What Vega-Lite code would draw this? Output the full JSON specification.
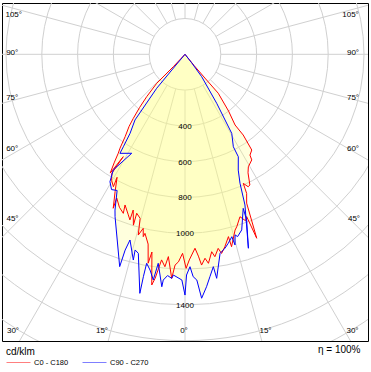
{
  "$schema": "https://vega.github.io/schema/vega-lite/v6.json",
  "width": 366,
  "height": 338,
  "autosize": {"type": "none"},
  "padding": {"left": 2, "top": 3, "right": 3, "bottom": 31},
  "config": {"view": {"stroke": "#000000", "strokeWidth": 1}, "font": "Liberation Sans"},
  "datasets": {
    "curves": [
      {"s": "C0 - C180", "i": 1, "a": -60, "v": 0},
      {"s": "C0 - C180", "i": 2, "a": -43.3, "v": 95},
      {"s": "C0 - C180", "i": 3, "a": -44.3, "v": 226},
      {"s": "C0 - C180", "i": 4, "a": -42.1, "v": 319},
      {"s": "C0 - C180", "i": 5, "a": -40.5, "v": 390},
      {"s": "C0 - C180", "i": 6, "a": -38.9, "v": 460},
      {"s": "C0 - C180", "i": 7, "a": -37.8, "v": 510},
      {"s": "C0 - C180", "i": 8, "a": -36, "v": 569},
      {"s": "C0 - C180", "i": 9, "a": -34.7, "v": 638},
      {"s": "C0 - C180", "i": 10, "a": -34, "v": 667},
      {"s": "C0 - C180", "i": 11, "a": -33.2, "v": 720},
      {"s": "C0 - C180", "i": 12, "a": -32.2, "v": 784},
      {"s": "C0 - C180", "i": 13, "a": -31.1, "v": 668},
      {"s": "C0 - C180", "i": 14, "a": -31.6, "v": 781},
      {"s": "C0 - C180", "i": 15, "a": -30.2, "v": 815},
      {"s": "C0 - C180", "i": 16, "a": -28.4, "v": 841},
      {"s": "C0 - C180", "i": 17, "a": -28.9, "v": 785},
      {"s": "C0 - C180", "i": 18, "a": -27, "v": 860},
      {"s": "C0 - C180", "i": 19, "a": -25, "v": 949},
      {"s": "C0 - C180", "i": 20, "a": -25.4, "v": 889},
      {"s": "C0 - C180", "i": 21, "a": -23.2, "v": 930},
      {"s": "C0 - C180", "i": 22, "a": -21.2, "v": 953},
      {"s": "C0 - C180", "i": 23, "a": -21.7, "v": 906},
      {"s": "C0 - C180", "i": 24, "a": -19.6, "v": 948},
      {"s": "C0 - C180", "i": 25, "a": -18.4, "v": 975},
      {"s": "C0 - C180", "i": 26, "a": -18.4, "v": 917},
      {"s": "C0 - C180", "i": 27, "a": -16.8, "v": 997},
      {"s": "C0 - C180", "i": 28, "a": -16.9, "v": 928},
      {"s": "C0 - C180", "i": 29, "a": -15.3, "v": 950},
      {"s": "C0 - C180", "i": 30, "a": -14.5, "v": 1043},
      {"s": "C0 - C180", "i": 31, "a": -13.5, "v": 1000},
      {"s": "C0 - C180", "i": 32, "a": -12.9, "v": 1045},
      {"s": "C0 - C180", "i": 33, "a": -12.6, "v": 1025},
      {"s": "C0 - C180", "i": 34, "a": -11, "v": 1080},
      {"s": "C0 - C180", "i": 35, "a": -10, "v": 1185},
      {"s": "C0 - C180", "i": 36, "a": -9.5, "v": 1120},
      {"s": "C0 - C180", "i": 37, "a": -8.2, "v": 1302},
      {"s": "C0 - C180", "i": 38, "a": -7.6, "v": 1263},
      {"s": "C0 - C180", "i": 39, "a": -6.5, "v": 1156},
      {"s": "C0 - C180", "i": 40, "a": -5.4, "v": 1192},
      {"s": "C0 - C180", "i": 41, "a": -4.7, "v": 1134},
      {"s": "C0 - C180", "i": 42, "a": -3.4, "v": 1254},
      {"s": "C0 - C180", "i": 43, "a": -2.7, "v": 1179},
      {"s": "C0 - C180", "i": 44, "a": -1.8, "v": 1160},
      {"s": "C0 - C180", "i": 45, "a": -0.7, "v": 1112},
      {"s": "C0 - C180", "i": 46, "a": 0.3, "v": 1196},
      {"s": "C0 - C180", "i": 47, "a": 1.2, "v": 1149},
      {"s": "C0 - C180", "i": 48, "a": 2.95, "v": 1085},
      {"s": "C0 - C180", "i": 49, "a": 3.8, "v": 1130},
      {"s": "C0 - C180", "i": 50, "a": 4.5, "v": 1181},
      {"s": "C0 - C180", "i": 51, "a": 5.6, "v": 1145},
      {"s": "C0 - C180", "i": 52, "a": 6.4, "v": 1175},
      {"s": "C0 - C180", "i": 53, "a": 7.7, "v": 1113},
      {"s": "C0 - C180", "i": 54, "a": 8.4, "v": 1143},
      {"s": "C0 - C180", "i": 55, "a": 9.7, "v": 1100},
      {"s": "C0 - C180", "i": 56, "a": 10.4, "v": 1131},
      {"s": "C0 - C180", "i": 57, "a": 11.7, "v": 1098},
      {"s": "C0 - C180", "i": 58, "a": 13.4, "v": 1047},
      {"s": "C0 - C180", "i": 59, "a": 13.6, "v": 1106},
      {"s": "C0 - C180", "i": 60, "a": 15.9, "v": 1021},
      {"s": "C0 - C180", "i": 61, "a": 16.7, "v": 1006},
      {"s": "C0 - C180", "i": 62, "a": 18.7, "v": 958},
      {"s": "C0 - C180", "i": 63, "a": 20, "v": 990},
      {"s": "C0 - C180", "i": 64, "a": 20.8, "v": 970},
      {"s": "C0 - C180", "i": 65, "a": 21.3, "v": 1103},
      {"s": "C0 - C180", "i": 66, "a": 22.5, "v": 900},
      {"s": "C0 - C180", "i": 67, "a": 23.9, "v": 850},
      {"s": "C0 - C180", "i": 68, "a": 24.3, "v": 791},
      {"s": "C0 - C180", "i": 69, "a": 25.5, "v": 820},
      {"s": "C0 - C180", "i": 70, "a": 26.4, "v": 815},
      {"s": "C0 - C180", "i": 71, "a": 28, "v": 750},
      {"s": "C0 - C180", "i": 72, "a": 29.4, "v": 721},
      {"s": "C0 - C180", "i": 73, "a": 32.3, "v": 698},
      {"s": "C0 - C180", "i": 74, "a": 32.8, "v": 670},
      {"s": "C0 - C180", "i": 75, "a": 34.9, "v": 652},
      {"s": "C0 - C180", "i": 76, "a": 35.8, "v": 556},
      {"s": "C0 - C180", "i": 77, "a": 35.3, "v": 484},
      {"s": "C0 - C180", "i": 78, "a": 37.5, "v": 400},
      {"s": "C0 - C180", "i": 79, "a": 40.5, "v": 286},
      {"s": "C0 - C180", "i": 80, "a": 40, "v": 180},
      {"s": "C0 - C180", "i": 81, "a": 39, "v": 80},
      {"s": "C0 - C180", "i": 82, "a": 60, "v": 0},
      {"s": "C90 - C270", "i": 1, "a": -60, "v": 0},
      {"s": "C90 - C270", "i": 2, "a": -40, "v": 100},
      {"s": "C90 - C270", "i": 3, "a": -39.8, "v": 247},
      {"s": "C90 - C270", "i": 4, "a": -37.3, "v": 461},
      {"s": "C90 - C270", "i": 5, "a": -34.8, "v": 538},
      {"s": "C90 - C270", "i": 6, "a": -33.7, "v": 621},
      {"s": "C90 - C270", "i": 7, "a": -33.3, "v": 662},
      {"s": "C90 - C270", "i": 8, "a": -28.3, "v": 628},
      {"s": "C90 - C270", "i": 9, "a": -31.8, "v": 760},
      {"s": "C90 - C270", "i": 10, "a": -30.5, "v": 826},
      {"s": "C90 - C270", "i": 11, "a": -28.5, "v": 860},
      {"s": "C90 - C270", "i": 12, "a": -26.5, "v": 850},
      {"s": "C90 - C270", "i": 13, "a": -24.2, "v": 954},
      {"s": "C90 - C270", "i": 14, "a": -23.3, "v": 988},
      {"s": "C90 - C270", "i": 15, "a": -17.1, "v": 1241},
      {"s": "C90 - C270", "i": 16, "a": -17, "v": 1144},
      {"s": "C90 - C270", "i": 17, "a": -16.5, "v": 1082},
      {"s": "C90 - C270", "i": 18, "a": -14.1, "v": 1185},
      {"s": "C90 - C270", "i": 19, "a": -14.3, "v": 1128},
      {"s": "C90 - C270", "i": 20, "a": -13.2, "v": 1142},
      {"s": "C90 - C270", "i": 21, "a": -10.7, "v": 1359},
      {"s": "C90 - C270", "i": 22, "a": -10.6, "v": 1264},
      {"s": "C90 - C270", "i": 23, "a": -10.4, "v": 1187},
      {"s": "C90 - C270", "i": 24, "a": -9.2, "v": 1221},
      {"s": "C90 - C270", "i": 25, "a": -8, "v": 1273},
      {"s": "C90 - C270", "i": 26, "a": -7.3, "v": 1177},
      {"s": "C90 - C270", "i": 27, "a": -5.7, "v": 1305},
      {"s": "C90 - C270", "i": 28, "a": -5.5, "v": 1267},
      {"s": "C90 - C270", "i": 29, "a": -4.5, "v": 1240},
      {"s": "C90 - C270", "i": 30, "a": -3.4, "v": 1254},
      {"s": "C90 - C270", "i": 31, "a": -3, "v": 1235},
      {"s": "C90 - C270", "i": 32, "a": -0.8, "v": 1261},
      {"s": "C90 - C270", "i": 33, "a": 0, "v": 1345},
      {"s": "C90 - C270", "i": 34, "a": 0.4, "v": 1233},
      {"s": "C90 - C270", "i": 35, "a": 1.35, "v": 1187},
      {"s": "C90 - C270", "i": 36, "a": 2.1, "v": 1243},
      {"s": "C90 - C270", "i": 37, "a": 3, "v": 1263},
      {"s": "C90 - C270", "i": 38, "a": 3.9, "v": 1366},
      {"s": "C90 - C270", "i": 39, "a": 5.3, "v": 1304},
      {"s": "C90 - C270", "i": 40, "a": 6.4, "v": 1250},
      {"s": "C90 - C270", "i": 41, "a": 7.6, "v": 1197},
      {"s": "C90 - C270", "i": 42, "a": 8.05, "v": 1264},
      {"s": "C90 - C270", "i": 43, "a": 10, "v": 1129},
      {"s": "C90 - C270", "i": 44, "a": 11.65, "v": 1106},
      {"s": "C90 - C270", "i": 45, "a": 12.9, "v": 1083},
      {"s": "C90 - C270", "i": 46, "a": 14.4, "v": 1052},
      {"s": "C90 - C270", "i": 47, "a": 14.7, "v": 1101},
      {"s": "C90 - C270", "i": 48, "a": 15.5, "v": 1047},
      {"s": "C90 - C270", "i": 49, "a": 16.1, "v": 1060},
      {"s": "C90 - C270", "i": 50, "a": 17.9, "v": 1031},
      {"s": "C90 - C270", "i": 51, "a": 20.7, "v": 920},
      {"s": "C90 - C270", "i": 52, "a": 20.4, "v": 988},
      {"s": "C90 - C270", "i": 53, "a": 18.1, "v": 1140},
      {"s": "C90 - C270", "i": 54, "a": 21.7, "v": 906},
      {"s": "C90 - C270", "i": 55, "a": 23.1, "v": 783},
      {"s": "C90 - C270", "i": 56, "a": 24.7, "v": 712},
      {"s": "C90 - C270", "i": 57, "a": 27.5, "v": 645},
      {"s": "C90 - C270", "i": 58, "a": 27.6, "v": 583},
      {"s": "C90 - C270", "i": 59, "a": 30.6, "v": 513},
      {"s": "C90 - C270", "i": 60, "a": 32.9, "v": 326},
      {"s": "C90 - C270", "i": 61, "a": 36.7, "v": 156},
      {"s": "C90 - C270", "i": 62, "a": 38, "v": 60},
      {"s": "C90 - C270", "i": 63, "a": 60, "v": 0}
    ],
    "rings": [
      {"v": 200}, {"v": 400}, {"v": 600}, {"v": 800}, {"v": 1000},
      {"v": 1200}, {"v": 1400}, {"v": 1600}, {"v": 1800}, {"v": 2000}
    ],
    "spokes": [
      {"a": 0}, {"a": 15}, {"a": 30}, {"a": 45}, {"a": 60}, {"a": 75},
      {"a": 90}, {"a": 105}, {"a": 120}, {"a": 135}, {"a": 150}, {"a": 165},
      {"a": 180}, {"a": 195}, {"a": 210}, {"a": 225}, {"a": 240}, {"a": 255},
      {"a": 270}, {"a": 285}, {"a": 300}, {"a": 315}, {"a": 330}, {"a": 345}
    ],
    "ringLabels": [
      {"t": "400", "X": 0, "Y": 400},
      {"t": "600", "X": 0, "Y": 600},
      {"t": "800", "X": 0, "Y": 800},
      {"t": "1000", "X": 0, "Y": 1000},
      {"t": "1400", "X": 0, "Y": 1400}
    ],
    "angleLabels": [
      {"t": "105°", "X": -957.0, "Y": -220.7},
      {"t": "90°", "X": -965.4, "Y": -7.3},
      {"t": "75°", "X": -965.4, "Y": 245.8},
      {"t": "60°", "X": -965.4, "Y": 529.1},
      {"t": "45°", "X": -963.7, "Y": 922.9},
      {"t": "30°", "X": -960.9, "Y": 1546.9},
      {"t": "15°", "X": -463.7, "Y": 1546.9},
      {"t": "0°", "X": -5.6, "Y": 1546.9},
      {"t": "15°", "X": 449.7, "Y": 1546.9},
      {"t": "30°", "X": 935.8, "Y": 1546.9},
      {"t": "45°", "X": 944.1, "Y": 922.9},
      {"t": "60°", "X": 938.5, "Y": 529.1},
      {"t": "75°", "X": 938.5, "Y": 245.8},
      {"t": "90°", "X": 938.5, "Y": -7.3},
      {"t": "105°", "X": 924.6, "Y": -220.7}
    ],
    "note": [
      {"t": "η = 100%", "X": 861.5, "Y": 1654.7}
    ]
  },
  "encoding": {
    "x": {"field": "X", "type": "quantitative", "axis": null, "scale": {"domain": [-1022.35, 1022.35], "nice": false, "zero": false}},
    "y": {"field": "Y", "type": "quantitative", "axis": null, "scale": {"domain": [-286.59, 1601.68], "nice": false, "zero": false, "reverse": true}}
  },
  "layer": [
    {
      "data": {"name": "rings"},
      "transform": [{"calculate": "0", "as": "X"}, {"calculate": "0", "as": "Y"}],
      "mark": {"type": "point", "shape": "circle", "filled": false, "stroke": "#d0d0d0", "strokeWidth": 1, "opacity": 1, "clip": true},
      "encoding": {
        "size": {"field": "v", "type": "quantitative", "scale": {"type": "pow", "exponent": 2, "domain": [0, 2000], "range": [0, 512656], "zero": true, "nice": false}, "legend": null}
      }
    },
    {
      "data": {"name": "spokes"},
      "transform": [
        {"calculate": "200*sin(datum.a*PI/180)", "as": "X"},
        {"calculate": "200*cos(datum.a*PI/180)", "as": "Y"},
        {"calculate": "2400*sin(datum.a*PI/180)", "as": "X2"},
        {"calculate": "2400*cos(datum.a*PI/180)", "as": "Y2"}
      ],
      "mark": {"type": "rule", "stroke": "#d0d0d0", "strokeWidth": 1, "clip": true},
      "encoding": {"x2": {"field": "X2"}, "y2": {"field": "Y2"}}
    },
    {
      "data": {"name": "curves"},
      "transform": [
        {"calculate": "datum.v*sin(datum.a*PI/180)", "as": "X"},
        {"calculate": "datum.v*cos(datum.a*PI/180)", "as": "Y"}
      ],
      "mark": {"type": "line", "fill": "#ffff80", "fillOpacity": 0.27, "strokeOpacity": 0, "strokeWidth": 0, "interpolate": "linear-closed"},
      "encoding": {
        "detail": {"field": "s", "type": "nominal"},
        "order": {"field": "i", "type": "quantitative"}
      }
    },
    {
      "data": {"name": "ringLabels"},
      "mark": {"type": "text", "fontSize": 8, "color": "#000000", "baseline": "middle", "align": "center", "dy": 1},
      "encoding": {"text": {"field": "t", "type": "nominal"}}
    },
    {
      "data": {"name": "curves"},
      "transform": [
        {"calculate": "datum.v*sin(datum.a*PI/180)", "as": "X"},
        {"calculate": "datum.v*cos(datum.a*PI/180)", "as": "Y"}
      ],
      "mark": {"type": "line", "strokeWidth": 1, "clip": true},
      "encoding": {
        "color": {
          "field": "s", "type": "nominal",
          "scale": {"domain": ["C0 - C180", "C90 - C270"], "range": ["#ff0000", "#0000ff"]},
          "legend": {
            "title": "cd/klm", "orient": "bottom", "direction": "horizontal",
            "titleFontSize": 10, "titleFontWeight": "normal", "titleColor": "#000000", "titleFont": "Liberation Sans",
            "labelFontSize": 7.5, "labelColor": "#000000", "labelFont": "Liberation Sans",
            "symbolType": "stroke", "symbolSize": 576, "symbolStrokeWidth": 1,
            "columnPadding": 11, "labelOffset": 3, "offset": 1.5, "padding": 4, "titlePadding": -7,
            "encode": {
              "symbols": {"update": {"stroke": {"scale": "color", "field": "value"}, "strokeOpacity": {"value": 0.5}}}
            }
          }
        },
        "order": {"field": "i", "type": "quantitative"}
      }
    },
    {
      "data": {"name": "angleLabels"},
      "mark": {"type": "text", "fontSize": 8, "color": "#000000", "baseline": "middle", "align": "center"},
      "encoding": {"text": {"field": "t", "type": "nominal"}}
    },
    {
      "data": {"name": "note"},
      "mark": {"type": "text", "fontSize": 10, "color": "#000000", "baseline": "middle", "align": "center"},
      "encoding": {"text": {"field": "t", "type": "nominal"}}
    }
  ]
}
